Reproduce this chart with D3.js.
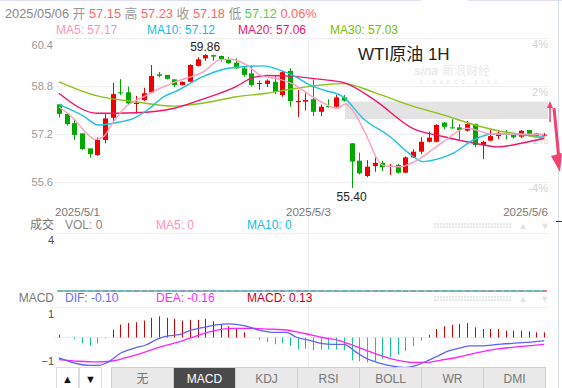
<!DOCTYPE html>
<html>
<head>
<meta charset="utf-8">
<script src="https://cdn.jsdelivr.net/npm/d3@7"></script>
<style>
  body { margin: 0; background: #fff; }
  svg { display: block; font-family: "Liberation Sans", Arial, "Noto Sans CJK SC", sans-serif; }
</style>
</head>
<body>
<script>
// hourly candles
const open  = [58.19,57.87,57.56,57.22,56.72,56.50,57.00,57.74,58.59,58.59,58.20,58.33,58.58,59.19,59.17,59.02,
               58.83,58.94,59.47,59.72,59.83,59.80,59.70,59.58,59.39,59.22,58.87,58.87,58.94,58.50,59.30,58.26,
               58.28,58.36,57.94,58.13,58.11,58.42,56.89,56.31,55.80,56.13,56.24,56.11,56.17,55.91,56.42,56.61,
               56.94,56.94,57.58,57.42,57.42,57.31,57.53,56.83,56.98,57.13,57.20,57.20,57.11,57.33,57.22,57.15];
const high  = [58.20,57.88,57.69,57.22,56.72,57.09,57.89,58.91,59.03,58.78,58.47,58.74,59.50,59.27,59.17,59.03,
               58.95,59.52,59.76,59.86,59.84,59.81,59.76,59.72,59.47,59.50,58.98,59.02,59.13,59.31,59.39,58.67,
               58.56,59.02,58.18,58.36,58.50,58.50,56.89,56.58,56.33,56.42,56.31,56.20,56.20,56.45,56.69,57.09,
               57.28,57.53,57.60,57.69,57.53,57.64,57.55,56.97,57.33,57.33,57.33,57.22,57.33,57.34,57.24,57.23];
const low   = [57.75,57.48,57.00,56.67,56.41,56.47,56.89,57.61,58.50,58.20,57.88,58.30,58.56,59.09,59.02,58.76,
               58.82,58.92,59.45,59.64,59.64,59.61,59.54,59.37,59.11,58.78,58.67,58.77,58.53,58.44,58.11,57.76,
               57.98,57.80,57.80,58.08,58.08,58.28,55.40,55.85,55.76,55.94,55.96,55.83,55.88,55.89,56.40,56.53,
               56.92,56.92,57.36,57.38,57.02,57.28,56.76,56.36,56.96,57.02,57.02,57.05,57.07,57.11,57.11,57.12];
const close = [57.87,57.53,57.17,56.70,56.53,57.00,57.72,58.53,58.56,58.22,58.24,58.56,59.13,59.14,59.04,58.83,
               58.94,59.50,59.69,59.83,59.78,59.70,59.56,59.39,59.17,58.83,58.90,58.98,58.61,59.26,58.30,58.30,
               58.33,57.94,58.11,58.11,58.42,58.31,56.28,55.89,56.11,56.24,56.09,56.14,55.91,56.42,56.61,56.94,
               57.08,57.50,57.44,57.39,57.33,57.53,56.83,56.94,57.13,57.24,57.19,57.09,57.31,57.20,57.14,57.18];
const volume = [0,0,0,0,0,0,0,0,0,0,0,0,0,0,0,0,0,0,0,0,0,0,0,0,0,0,0,0,0,0,0,0,
                0,0,0,0,0,0,0,0,0,0,0,0,0,0,0,0,0,0,0,0,0,0,0,0,0,0,0,0,0,0,0,0];

// moving averages as [candle index, value]
const ma5  = [[0,58.11],[2.1,57.67],[3.6,57.22],[4.7,57.02],[5.8,57.11],[7.1,57.61],[8.8,58.13],[11,58.44],
              [13.1,58.72],[15.1,58.94],[18.8,59.28],[20.9,59.67],[22.2,59.69],[24.4,59.50],[26.1,59.17],
              [28.7,59.02],[30.7,58.83],[32.6,58.50],[34.3,58.24],[36.1,58.06],[37.2,58.20],[38.1,58.00],
              [40,57.11],[41.4,56.33],[42.4,56.13],[44.3,56.11],[46.2,56.28],[49.9,56.94],[52.9,57.39],
              [54.2,57.33],[56,57.20],[58.1,57.20],[63,57.19]];
const ma10 = [[0,58.19],[3.2,57.80],[5.1,57.50],[7.5,57.58],[9.7,57.72],[11.8,58.06],[13.6,58.44],[15.1,58.61],
              [18.7,59.11],[21.4,59.36],[23.9,59.44],[26.5,59.47],[28.7,59.33],[30.7,59.11],[32.6,58.83],
              [34.3,58.67],[36.9,58.44],[39.5,57.72],[43,57.11],[45.6,56.53],[47.3,56.28],[48.2,56.31],
              [51.2,56.56],[53.8,57.00],[56.4,57.20],[59.9,57.17],[63,57.12]];
const ma20 = [[0,58.56],[5,57.89],[10,57.91],[15,58.06],[19,58.39],[23,58.78],[25,59.06],[27,59.15],[30,59.13],
              [34,59.02],[37,58.91],[41,58.33],[46,57.38],[50,57.11],[54,56.89],[57,56.77],[60,56.89],[63,57.06]];
const ma30 = [[0,58.94],[5,58.47],[10,58.27],[15,58.13],[19,58.24],[23,58.44],[27,58.56],[30,58.69],[34,58.83],
              [37,58.88],[41,58.58],[46,58.12],[50,57.83],[54,57.50],[57,57.31],[60,57.19],[63,57.05]];

// MACD panel
const macdHist = [0.12,-0.01,-0.07,-0.25,-0.36,-0.25,-0.04,0.33,0.55,0.62,0.65,0.72,0.84,0.90,0.84,0.80,
                  0.72,0.75,0.75,0.80,0.68,0.54,0.48,0.39,0.22,0.00,-0.10,-0.19,-0.29,-0.25,-0.36,-0.51,
                  -0.48,-0.54,-0.51,-0.51,-0.51,-0.54,-0.97,-1.01,-1.06,-1.01,-0.91,-0.83,-0.72,-0.58,-0.36,-0.14,
                  0.12,0.36,0.48,0.54,0.58,0.61,0.43,0.36,0.36,0.36,0.29,0.29,0.29,0.26,0.22,0.22];
const dif = [[0,-0.87],[2.1,-1.09],[4,-1.19],[5.1,-1.19],[6.3,-1.06],[8.1,-0.65],[10,-0.43],[11.2,-0.33],
             [12.8,-0.07],[14.2,0.07],[15.6,0.12],[17,0.29],[18.8,0.43],[20.7,0.55],[22.1,0.58],[24,0.51],
             [25.8,0.33],[27.7,0.22],[29.5,0.22],[30.9,0.00],[32.3,-0.10],[34.2,-0.26],[35.6,-0.29],[37,-0.29],
             [38.4,-0.58],[39.8,-0.87],[41.6,-1.09],[43.5,-1.23],[44.9,-1.28],[46.3,-1.20],[47.7,-1.01],
             [49.1,-0.80],[50.5,-0.58],[52.3,-0.43],[53.3,-0.36],[54.7,-0.36],[57.4,-0.28],[60.2,-0.22],[63,-0.14]];
const dea = [[0,-0.94],[2.6,-1.01],[4.9,-1.04],[6.7,-1.01],[8.6,-0.87],[10.9,-0.65],[13.3,-0.39],[15.6,-0.19],
             [17.9,0.07],[20.2,0.29],[22.6,0.39],[24.9,0.39],[27.2,0.36],[29.5,0.32],[31.9,0.17],[34.2,0.00],
             [36.5,-0.14],[38.4,-0.36],[40.2,-0.58],[42.1,-0.80],[44,-0.97],[45.8,-1.06],[47.7,-1.06],
             [49.5,-0.97],[51.9,-0.83],[54.2,-0.65],[57,-0.48],[59.8,-0.39],[63,-0.29]];

const priceTicks = [60.4, 58.8, 57.2, 55.6];
const pctLabels = ["4%", "2%", "-1%", "-4%"];
const dateTicks = [[0, "2025/5/1"], [32.4, "2025/5/3"], [63, "2025/5/6"]];
const gapBox = {from: 37.15, top: 58.28, bottom: 57.70};
const tabs = ["无", "MACD", "KDJ", "RSI", "BOLL", "WR", "DMI"];

const left = 55, right = 548;
const n = open.length;

const svg = d3.select("body").append("svg").attr("width", 562).attr("height", 388);

const x = d3.scaleLinear().domain([-0.5, n - 0.5]).range([left, right]);
const y = d3.scaleLinear().domain([55.6, 60.4]).range([182, 38]);
const yv = d3.scaleLinear().domain([0, 4]).range([291.5, 240]);
const ym = d3.scaleLinear().domain([-1, 1]).range([361, 314]);

// frame lines
svg.append("line").attr("x1", 0).attr("x2", 421).attr("y1", 0.5).attr("y2", 0.5).attr("stroke", "#dfe3f2");
svg.append("line").attr("x1", 468).attr("x2", 562).attr("y1", 0.5).attr("y2", 0.5).attr("stroke", "#dfe3f2");
svg.append("line").attr("x1", 558.5).attr("x2", 558.5).attr("y1", 0).attr("y2", 388).attr("stroke", "#d6e0f0");
svg.append("line").attr("x1", 556).attr("x2", 562).attr("y1", 221.5).attr("y2", 221.5).attr("stroke", "#223388");

// header, laid out as one flowing line
const head = [["2025/05/06", "#888"], ["开", "#999"], ["57.15", "#f66"], ["高", "#999"], ["57.23", "#f66"],
              ["收", "#999"], ["57.18", "#f66"], ["低", "#999"], ["57.12", "#5c5"], ["0.06%", "#f66"]];
svg.append("text").attr("x", 5).attr("y", 18).attr("font-size", 12.8).attr("xml:space", "preserve")
  .selectAll("tspan").data(head).join("tspan")
  .attr("fill", d => d[1]).text((d, i) => (i ? " " : "") + d[0]);

const legend = [["MA5: 57.17", "#ff93b6", 56], ["MA10: 57.12", "#13bde3", 147],
                ["MA20: 57.06", "#f0146a", 238], ["MA30: 57.03", "#79be00", 330]];
svg.append("g").selectAll("text").data(legend).join("text")
  .attr("x", d => d[2]).attr("y", 34).attr("fill", d => d[1]).attr("font-size", 12).text(d => d[0]);

// price grid + left labels
const gy = svg.append("g").attr("transform", `translate(${left},0)`)
  .call(d3.axisLeft(y).tickValues(priceTicks).tickSize(-(right - left)).tickPadding(2).tickFormat(d3.format(".1f")));
gy.select(".domain").remove();
gy.selectAll("line").attr("stroke", "#eeeeee");
gy.selectAll("text").attr("fill", "#999").attr("font-size", 11).attr("font-family", null)
  .attr("dy", (d, i) => i === 0 ? "0.95em" : "0.35em");

// right percent labels
svg.append("g").selectAll("text").data(priceTicks).join("text")
  .attr("x", right).attr("y", d => y(d) + 10).attr("text-anchor", "end")
  .attr("fill", "#d4d4d4").attr("font-size", 11).text((d, i) => pctLabels[i]);

// vertical date grid line
svg.append("line").attr("x1", x(dateTicks[1][0])).attr("x2", x(dateTicks[1][0]))
  .attr("y1", 38).attr("y2", 366).attr("stroke", "#eeeeee");

// watermark + title
svg.append("text").attr("x", 414).attr("y", 75).attr("font-size", 12).attr("font-style", "italic")
  .attr("font-weight", "bold").attr("fill", "#ebebeb").text("sina");
svg.append("text").attr("x", 442).attr("y", 75).attr("font-size", 12).attr("fill", "#ebebeb").text("新浪财经");
svg.append("text").attr("x", 420).attr("y", 84).attr("font-size", 4.5).attr("fill", "#e4e4e4")
  .attr("letter-spacing", 1.5).text("F I N A N C E . S I N A");
svg.append("text").attr("x", 358).attr("y", 60).attr("font-size", 17).attr("fill", "#222").text("WTI原油 1H");

// gap box
svg.append("rect").attr("x", x(gapBox.from)).attr("y", y(gapBox.top))
  .attr("width", right - x(gapBox.from)).attr("height", y(gapBox.bottom) - y(gapBox.top))
  .attr("fill", "#e3e3e3");

// candles
const up = i => close[i] >= open[i];
const cg = svg.append("g");
cg.selectAll("line").data(d3.range(n)).join("line")
  .attr("x1", i => Math.round(x(i)) + 0.5).attr("x2", i => Math.round(x(i)) + 0.5)
  .attr("y1", i => y(high[i])).attr("y2", i => y(low[i]))
  .attr("stroke", i => up(i) ? "#f00000" : "#00a800");
cg.selectAll("rect").data(d3.range(n)).join("rect")
  .attr("x", i => Math.round(x(i)) - 2).attr("width", 5)
  .attr("y", i => y(Math.max(open[i], close[i])))
  .attr("height", i => Math.max(1, Math.abs(y(open[i]) - y(close[i]))))
  .attr("fill", i => up(i) ? "#f00000" : "#00a800");

// MA lines
const line = d3.line().x(d => x(d[0])).y(d => y(d[1])).curve(d3.curveMonotoneX);
[[ma30, "#8cc21a"], [ma20, "#f0146a"], [ma10, "#1ec0e6"], [ma5, "#ff9dbd"]].forEach(([d, c]) => {
  svg.append("path").datum(d).attr("d", line).attr("fill", "none").attr("stroke", c).attr("stroke-width", 1.4);
});

// high / low marks
const iHi = d3.maxIndex(high), iLo = d3.minIndex(low);
svg.append("text").attr("x", x(iHi)).attr("y", y(high[iHi]) - 3).attr("text-anchor", "middle")
  .attr("font-size", 12).attr("fill", "#222").text(high[iHi].toFixed(2));
svg.append("text").attr("x", x(iLo)).attr("y", y(low[iLo]) + 13).attr("text-anchor", "middle")
  .attr("font-size", 12).attr("fill", "#222").text(low[iLo].toFixed(2));

// right arrows
svg.append("line").attr("x1", 550).attr("x2", 550).attr("y1", 122).attr("y2", 106)
  .attr("stroke", "#f2416f").attr("stroke-width", 1.5);
svg.append("path").attr("d", "M547,108 L550,101 L553,108 Z").attr("fill", "#f2416f");
svg.append("line").attr("x1", 554).attr("x2", 559).attr("y1", 108).attr("y2", 160)
  .attr("stroke", "#f2416f").attr("stroke-width", 3);
svg.append("path").attr("d", "M551,156 L562,153 L560,172 Z").attr("fill", "#f2416f");

// date labels
svg.append("g").selectAll("text").data(dateTicks).join("text")
  .attr("x", d => x(d[0])).attr("y", 216).attr("font-size", 11.5).attr("fill", "#777")
  .attr("text-anchor", (d, i) => i === 0 ? "start" : i === 1 ? "middle" : "end")
  .attr("dx", (d, i) => i === 0 ? -3.8 : i === 2 ? 3.8 : 0)
  .text(d => d[1]);

// small right controls (dotted bar + arrows)
function controls(yy) {
  const g = svg.append("g");
  [yy - 5, yy - 2].forEach(r => g.append("line").attr("x1", 434).attr("x2", 511).attr("y1", r).attr("y2", r)
    .attr("stroke", "#e0e0e0").attr("stroke-width", 1.5).attr("stroke-dasharray", "2,1"));
  g.append("text").attr("x", 523).attr("y", yy).attr("text-anchor", "middle").attr("font-size", 9)
    .attr("fill", "#e2e2e2").text("▲");
  g.append("text").attr("x", 545).attr("y", yy).attr("text-anchor", "middle").attr("font-size", 9)
    .attr("fill", "#e2e2e2").text("▼");
}

// volume panel
const volHead = [["成交", "#777", 54, "end"], ["VOL: 0", "#888", 65, "start"],
                 ["MA5: 0", "#ff93b6", 156, "start"], ["MA10: 0", "#13bde3", 247, "start"]];
svg.append("g").selectAll("text").data(volHead).join("text")
  .attr("x", d => d[2]).attr("y", 229).attr("fill", d => d[1]).attr("text-anchor", d => d[3])
  .attr("font-size", 12).text(d => d[0]);
controls(229);
svg.append("line").attr("x1", left).attr("x2", right).attr("y1", 233.5).attr("y2", 233.5).attr("stroke", "#eeeeee");
const gv = svg.append("g").attr("transform", `translate(${left},0)`)
  .call(d3.axisLeft(yv).tickValues([4]).tickSize(0).tickPadding(1).tickFormat(d3.format("d")));
gv.select(".domain").remove();
gv.selectAll("text").attr("fill", "#555").attr("font-size", 11).attr("font-family", null);
svg.append("g").selectAll("rect").data(d3.range(n)).join("rect")
  .attr("x", i => Math.round(x(i)) - 2).attr("width", 5)
  .attr("y", i => yv(volume[i]) - 1).attr("height", i => Math.max(1, yv(0) - yv(volume[i])))
  .attr("fill", i => up(i) ? "#f00000" : "#00a800");
const vline = d3.line().x((d, i) => x(i)).y(d => yv(d) - 0.5);
svg.append("path").datum(volume).attr("d", vline).attr("fill", "none").attr("stroke", "#ff93b6").attr("stroke-width", 1);
svg.append("path").datum(volume).attr("d", vline).attr("fill", "none").attr("stroke", "#19b6c6").attr("stroke-width", 1);

// MACD panel
const macdHead = [["MACD", "#777", 54, "end"], ["DIF: -0.10", "#6a6aff", 65, "start"],
                  ["DEA: -0.16", "#ff2bff", 156, "start"], ["MACD: 0.13", "#cc0022", 247, "start"]];
svg.append("g").selectAll("text").data(macdHead).join("text")
  .attr("x", d => d[2]).attr("y", 302).attr("fill", d => d[1]).attr("text-anchor", d => d[3])
  .attr("font-size", 12).text(d => d[0]);
controls(302);
svg.append("line").attr("x1", left).attr("x2", right).attr("y1", 307.5).attr("y2", 307.5).attr("stroke", "#eeeeee");
svg.append("line").attr("x1", left).attr("x2", right).attr("y1", ym(0)).attr("y2", ym(0)).attr("stroke", "#eeeeee");
const gm = svg.append("g").attr("transform", `translate(${left},0)`)
  .call(d3.axisLeft(ym).tickValues([1, -1]).tickSize(0).tickPadding(1).tickFormat(d3.format("d")));
gm.select(".domain").remove();
gm.selectAll("text").attr("fill", "#555").attr("font-size", 11).attr("font-family", null);

svg.append("g").selectAll("line").data(macdHist).join("line")
  .attr("x1", (d, i) => Math.round(x(i)) + 0.5).attr("x2", (d, i) => Math.round(x(i)) + 0.5)
  .attr("y1", ym(0)).attr("y2", d => ym(d))
  .attr("stroke", d => d >= 0 ? "#d20000" : "#12c89a");
const mline = d3.line().x(d => x(d[0])).y(d => ym(d[1])).curve(d3.curveMonotoneX);
svg.append("path").datum(dea).attr("d", mline).attr("fill", "none").attr("stroke", "#ff22ff").attr("stroke-width", 1.3);
svg.append("path").datum(dif).attr("d", mline).attr("fill", "none").attr("stroke", "#6060ff").attr("stroke-width", 1.3);

// tab bar
const tb = svg.append("g");
[["▲", 56], ["▼", 79]].forEach(([t, bx]) => {
  tb.append("rect").attr("x", bx + 0.5).attr("y", 367.5).attr("width", 22).attr("height", 22)
    .attr("fill", "#fff").attr("stroke", "#dddddd");
  tb.append("text").attr("x", bx + 11.5).attr("y", 383).attr("text-anchor", "middle")
    .attr("font-size", 11).attr("fill", "#111").text(t);
});
tb.selectAll(".tab").data(tabs).join("rect").attr("class", "tab")
  .attr("x", (d, i) => 111.5 + i * 62).attr("y", 367.5).attr("width", 62).attr("height", 22)
  .attr("fill", d => d === "MACD" ? "#4a4a4a" : "#e9e9e9").attr("stroke", "#cfcfcf");
tb.selectAll(".tabt").data(tabs).join("text").attr("class", "tabt")
  .attr("x", (d, i) => 142.5 + i * 62).attr("y", 382.5).attr("text-anchor", "middle")
  .attr("font-size", 12).attr("fill", d => d === "MACD" ? "#fff" : "#777").text(d => d);
</script>
</body>
</html>
